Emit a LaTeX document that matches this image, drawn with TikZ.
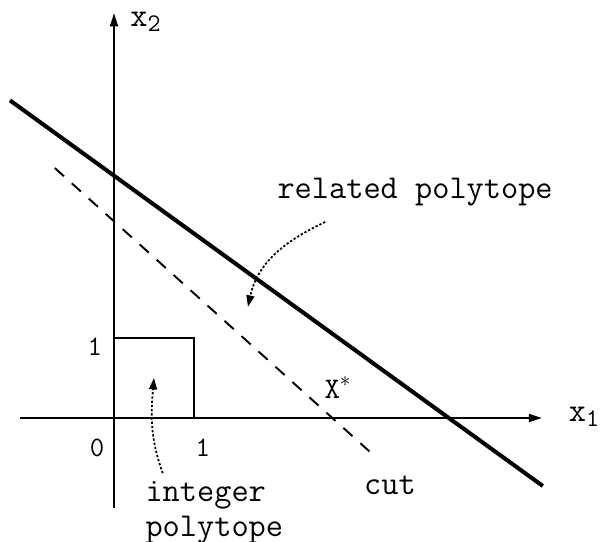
\documentclass[tikz,border=0pt]{standalone}
\usepackage{tikz}
\usetikzlibrary{arrows.meta,calc}

\begin{document}
\begin{tikzpicture}[x=1.6cm,y=1.6cm,
  axis/.style={line width=1.1pt,-{Triangle[length=7.5pt,width=4.5pt]}},
  lbl/.style={font=\fontsize{19}{20}\selectfont\ttfamily,inner sep=0pt},
  num/.style={font=\fontsize{16}{18}\selectfont\ttfamily,inner sep=0pt},
  pointer/.style={line width=1pt,dash pattern=on 1.3pt off 1.1pt,
    -{Triangle[length=6.5pt,width=4.5pt]}}]
\useasboundingbox (-1.425,-1.5375) rectangle (6.1,5.225);
% Axes
\coordinate (o) at (0,0);
\coordinate (x1from) at (-1.18,0);
\coordinate (x1to) at (5.35,0);
\coordinate (x2from) at (0,-1.12);
\coordinate (x2to) at (0,5.06);
\draw[axis] (x1from) -- (x1to);
\draw[axis] (x2from) -- (x2to);
\node[lbl] (x1lab) at (5.88,0.02) {x$_{\mathtt{1}}$};
\node[lbl] (x2lab) at (0.4,4.95) {x$_{\mathtt{2}}$};
% Tick labels
\node[num] (one2) at (-0.24,0.89) {1};
\node[num] (zero) at (-0.21,-0.375) {0};
\node[num] (one1) at (1.11,-0.375) {1};
% Integer polytope (unit square)
\draw[line width=1.1pt] (o) rectangle (1,1);
\coordinate (sqc) at (0.5,0.5);
% Related polytope boundary
\coordinate (pa) at (-1.3,3.97);
\coordinate (pb) at (5.36,-0.85);
\draw[line width=2.3pt] (pa) -- (pb);
% Cut
\coordinate (ca) at (-0.74,3.125);
\coordinate (cb) at (3.24,-0.46);
\draw[line width=1.1pt,dash pattern=on 7pt off 6pt] (ca) -- (cb);
\node[num,font=\fontsize{17}{18}\selectfont\ttfamily] (xstar) at (2.8,0.38) {X$^{*}$};
\node[lbl] (cut) at (3.45,-0.84) {cut};
% Labels with pointers
\node[lbl,anchor=west] (rel) at (2.04,2.82) {related polytope};
\coordinate (relfrom) at (2.64,2.45);
\coordinate (relto) at (1.675,1.39);
\draw[pointer] (relfrom) to[out=205,in=78] (relto);
\node[lbl,align=left,anchor=west] (intp) at (0.39,-1.18) {integer\\polytope};
\coordinate (intfrom) at (0.61,-0.69);
\draw[pointer] (intfrom) to[out=110,in=265] (sqc);
\end{tikzpicture}
\end{document}
